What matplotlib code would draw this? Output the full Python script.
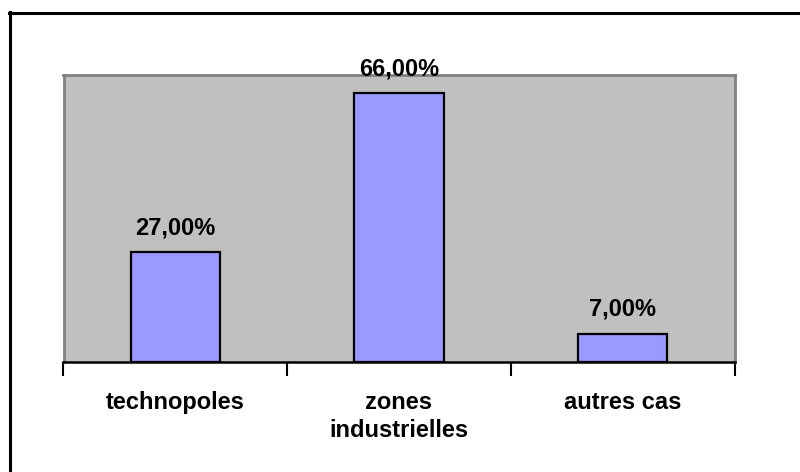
import numpy as np
import matplotlib
matplotlib.use('Agg')
import matplotlib.pyplot as plt
from matplotlib.lines import Line2D

# data
categories = ['technopoles', 'zones\nindustrielles', 'autres cas']
values = [27.0, 66.0, 7.0]
value_labels = ['27,00%', '66,00%', '7,00%']

plt.rcParams['font.family'] = ['Liberation Sans', 'DejaVu Sans']

W, H = 800, 472
fig = plt.figure(figsize=(W / 100, H / 100), dpi=100)

# plot area in pixel coords: x 63.5..734.5, y 75..362
ax = fig.add_axes([63.5 / W, 1 - 362 / H, (734.5 - 63.5) / W, (362 - 75) / H])
ax.set_facecolor('#C0C0C0')

x = np.arange(len(categories))
ax.bar(x, values, width=0.4, color='#9999FF', edgecolor='black', linewidth=1.6, zorder=3)

ax.set_xlim(-0.5, len(categories) - 0.5)
ax.set_ylim(0, 70.5)

for xi, v, lab in zip(x, values, value_labels):
    ax.annotate(lab, (xi, v), xytext=(0, 13), textcoords='offset pixels',
                ha='center', va='bottom', fontsize=17, fontweight='bold')

ax.set_yticks([])
ax.set_xticks(np.arange(len(categories) + 1) - 0.5)
ax.set_xticklabels([])
ax.tick_params(axis='x', direction='out', length=10, width=1.5, color='black')
for xi, cat in zip(x, categories):
    ax.text(xi, -0.10, cat, transform=ax.get_xaxis_transform(), ha='center', va='top',
            fontsize=17, fontweight='bold', linespacing=1.3)

for side in ['top', 'left', 'right']:
    ax.spines[side].set_color('#808080')
    ax.spines[side].set_linewidth(2)
ax.spines['bottom'].set_color('black')
ax.spines['bottom'].set_linewidth(1.8)

# outer frame: only top and left edges visible
fig.add_artist(Line2D([9 / W, 1], [1 - 13 / H, 1 - 13 / H], color='black', linewidth=2.2,
                      transform=fig.transFigure))
fig.add_artist(Line2D([10 / W, 10 / W], [1 - 12 / H, 0], color='black', linewidth=2.2,
                      transform=fig.transFigure))

fig.savefig('out.png', dpi=100, facecolor='white')
